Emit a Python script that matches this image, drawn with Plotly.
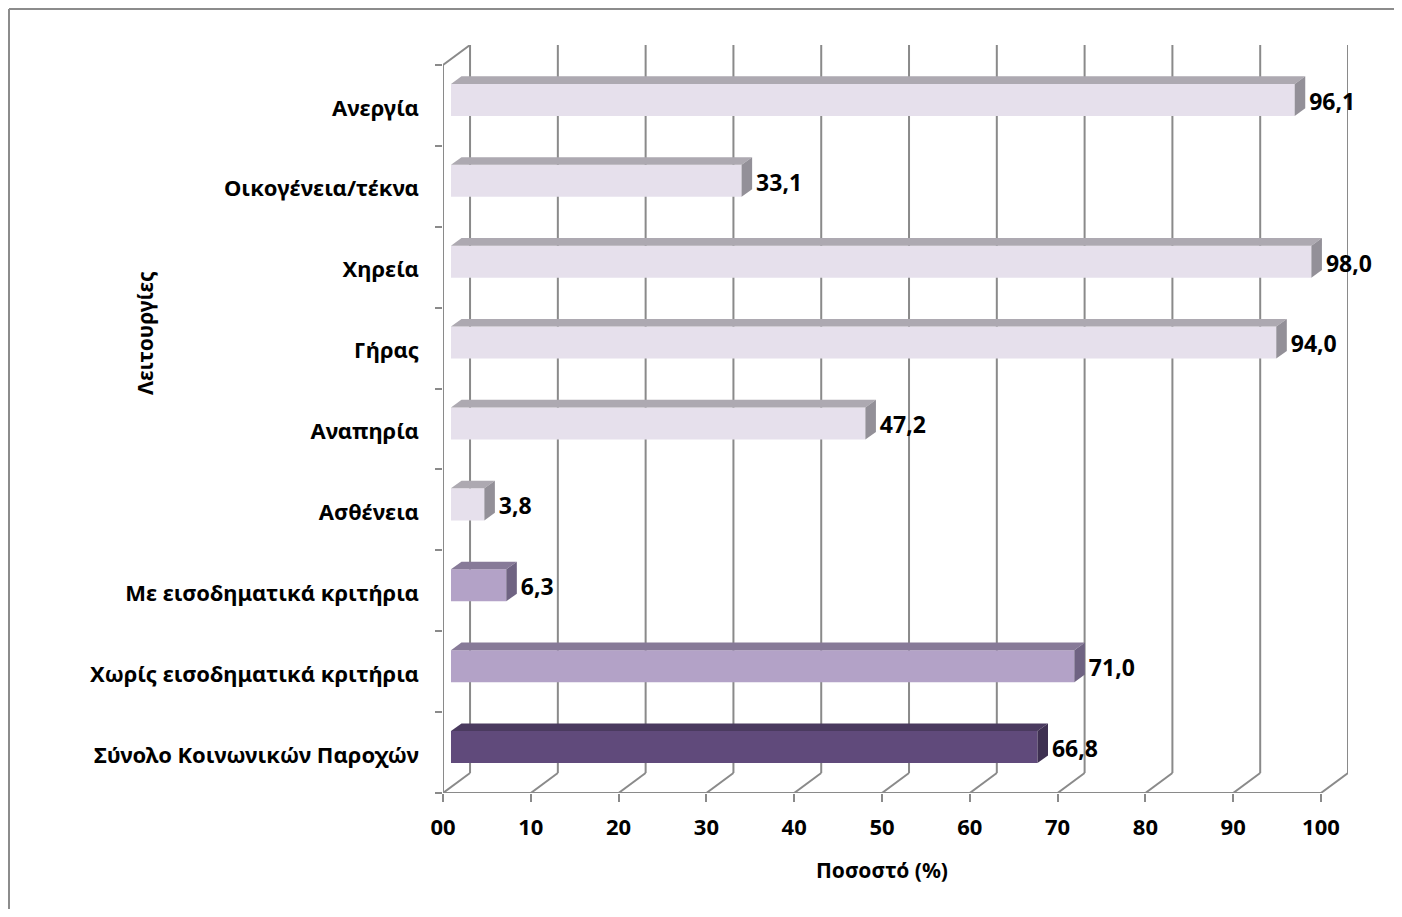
import plotly.graph_objects as go

# ---- data (top to bottom as shown) ----
categories = [
    "Ανεργία",
    "Οικογένεια/τέκνα",
    "Χηρεία",
    "Γήρας",
    "Αναπηρία",
    "Ασθένεια",
    "Με εισοδηματικά κριτήρια",
    "Χωρίς εισοδηματικά κριτήρια",
    "Σύνολο Κοινωνικών Παροχών",
]
values = [96.1, 33.1, 98.0, 94.0, 47.2, 3.8, 6.3, 71.0, 66.8]
groups = ["light", "light", "light", "light", "light", "light", "mid", "mid", "dark"]
x_ticks = [0, 10, 20, 30, 40, 50, 60, 70, 80, 90, 100]
x_ticktext = ["00", "10", "20", "30", "40", "50", "60", "70", "80", "90", "100"]

# ---- styling ----
FONT = "Noto Sans"
GRAY = "#8a8a8a"
COLORS = {
    "light": ("#E6E0EC", "#ADA9B1", "#939098"),
    "mid": ("#B3A2C7", "#877A98", "#6F6382"),
    "dark": ("#604A7B", "#4A3A5F", "#3E3051"),
}

# geometry (fig px)
W, H = 1386, 901
L, T, PW, PH = 435, 37, 905, 748
DXW = 3.08          # back-wall depth in x units
DYW = 0.247         # back-wall depth in category units
XMAX = 100 + DXW
YMAX = 9 + DYW
FX, FY = 0.91, 0.068     # bar front-face offset
BX, BY = 1.2, 0.094      # bar depth
HALF = 0.198             # half bar height
LABEL_GAP = 0.45
LABEL_DY = -0.05

n = len(categories)
centers = [n - 1 - i + 0.5 for i in range(n)]

fig = go.Figure()

# back wall gridlines + floor diagonals + front axis
shapes = []
for v in x_ticks:
    shapes.append(dict(type="line", x0=v + DXW, x1=v + DXW, y0=DYW, y1=YMAX,
                       line=dict(color=GRAY, width=2), layer="below"))
    shapes.append(dict(type="line", x0=v, x1=v + DXW, y0=0, y1=DYW,
                       line=dict(color=GRAY, width=2), layer="below"))
shapes.append(dict(type="line", x0=0, x1=100, y0=0, y1=0,
                   line=dict(color=GRAY, width=2), layer="below"))
shapes.append(dict(type="line", x0=0, x1=0, y0=0, y1=9,
                   line=dict(color=GRAY, width=2), layer="below"))
shapes.append(dict(type="line", x0=0, x1=DXW, y0=9, y1=YMAX,
                   line=dict(color=GRAY, width=2), layer="below"))
# outer chart border (top and left)
shapes.append(dict(type="line", xref="paper", yref="paper",
                   x0=-(L - 1) / PW, x1=(W - L) / PW,
                   y0=(T + PH - 1) / PH, y1=(T + PH - 1) / PH,
                   line=dict(color="#8c8c8c", width=2)))
shapes.append(dict(type="line", xref="paper", yref="paper",
                   x0=-(L - 1) / PW, x1=-(L - 1) / PW,
                   y0=(T + PH - 1) / PH, y1=-(H - T - PH) / PH,
                   line=dict(color="#8c8c8c", width=2)))

# bars: front faces
for g in ["light", "mid", "dark"]:
    idx = [i for i in range(n) if groups[i] == g]
    fig.add_trace(go.Bar(
        orientation="h",
        x=[values[i] for i in idx],
        y=[centers[i] + FY for i in idx],
        base=FX,
        width=2 * HALF,
        marker=dict(color=COLORS[g][0], line=dict(width=0)),
        hoverinfo="skip",
        showlegend=False,
    ))

# top and side faces
for i in range(n):
    v = values[i]
    c = centers[i] + FY
    x0, x1 = FX, FX + v
    yb, yt = c - HALF, c + HALF
    front, top, side = COLORS[groups[i]]
    fig.add_trace(go.Scatter(
        x=[x0, x1, x1 + BX, x0 + BX, x0],
        y=[yt, yt, yt + BY, yt + BY, yt],
        fill="toself", fillcolor=top, mode="lines",
        line=dict(width=0, color=top), hoverinfo="skip", showlegend=False))
    fig.add_trace(go.Scatter(
        x=[x1, x1 + BX, x1 + BX, x1, x1],
        y=[yb, yb + BY, yt + BY, yt, yb],
        fill="toself", fillcolor=side, mode="lines",
        line=dict(width=0, color=side), hoverinfo="skip", showlegend=False))

# value labels
fig.add_trace(go.Scatter(
    x=[FX + v + BX + LABEL_GAP for v in values],
    y=[c + FY + LABEL_DY for c in centers],
    customdata=values,
    mode="text",
    texttemplate="%{customdata:.1f}",
    textposition="middle right",
    textfont=dict(family=FONT, size=23, color="black", weight="bold"),
    cliponaxis=False,
    hoverinfo="skip", showlegend=False,
))

fig.add_annotation(text="<b>Λειτουργίες</b>", xref="paper", yref="paper",
                   x=(137 - L) / PW, y=(T + PH - 325) / PH, textangle=-90,
                   showarrow=False, xanchor="center", yanchor="middle",
                   font=dict(family=FONT, size=21, color="black"))
fig.add_annotation(text="<b>Ποσοστό (%)</b>", xref="paper", yref="paper",
                   x=(874 - L) / PW, y=(T + PH - 862) / PH,
                   showarrow=False, xanchor="center", yanchor="middle",
                   font=dict(family=FONT, size=21, color="black"))

fig.update_layout(
    width=W, height=H,
    margin=dict(l=L, r=W - L - PW, t=T, b=H - T - PH),
    paper_bgcolor="white", plot_bgcolor="white",
    separators=",.",
    barmode="overlay",
    shapes=shapes,
    showlegend=False,
    xaxis=dict(range=[0, XMAX], tickvals=x_ticks, ticktext=x_ticktext,
               ticks="outside", ticklen=8, tickwidth=2, tickcolor=GRAY,
               ticklabelstandoff=7,
               showgrid=False, zeroline=False, showline=False,
               tickfont=dict(family=FONT, size=22, color="black", weight="bold"),
               fixedrange=True),
    yaxis=dict(range=[0, YMAX], tickvals=[c - 0.03 for c in centers], ticktext=categories,
               ticks="", showgrid=False, zeroline=False, showline=False,
               ticklabelstandoff=23,
               minor=dict(tickmode="linear", tick0=0, dtick=1, ticks="outside",
                          ticklen=7, tickwidth=2, tickcolor=GRAY, showgrid=False),
               tickfont=dict(family=FONT, size=22, color="black", weight="bold"),
               fixedrange=True),
)

fig.write_html("out.html")
